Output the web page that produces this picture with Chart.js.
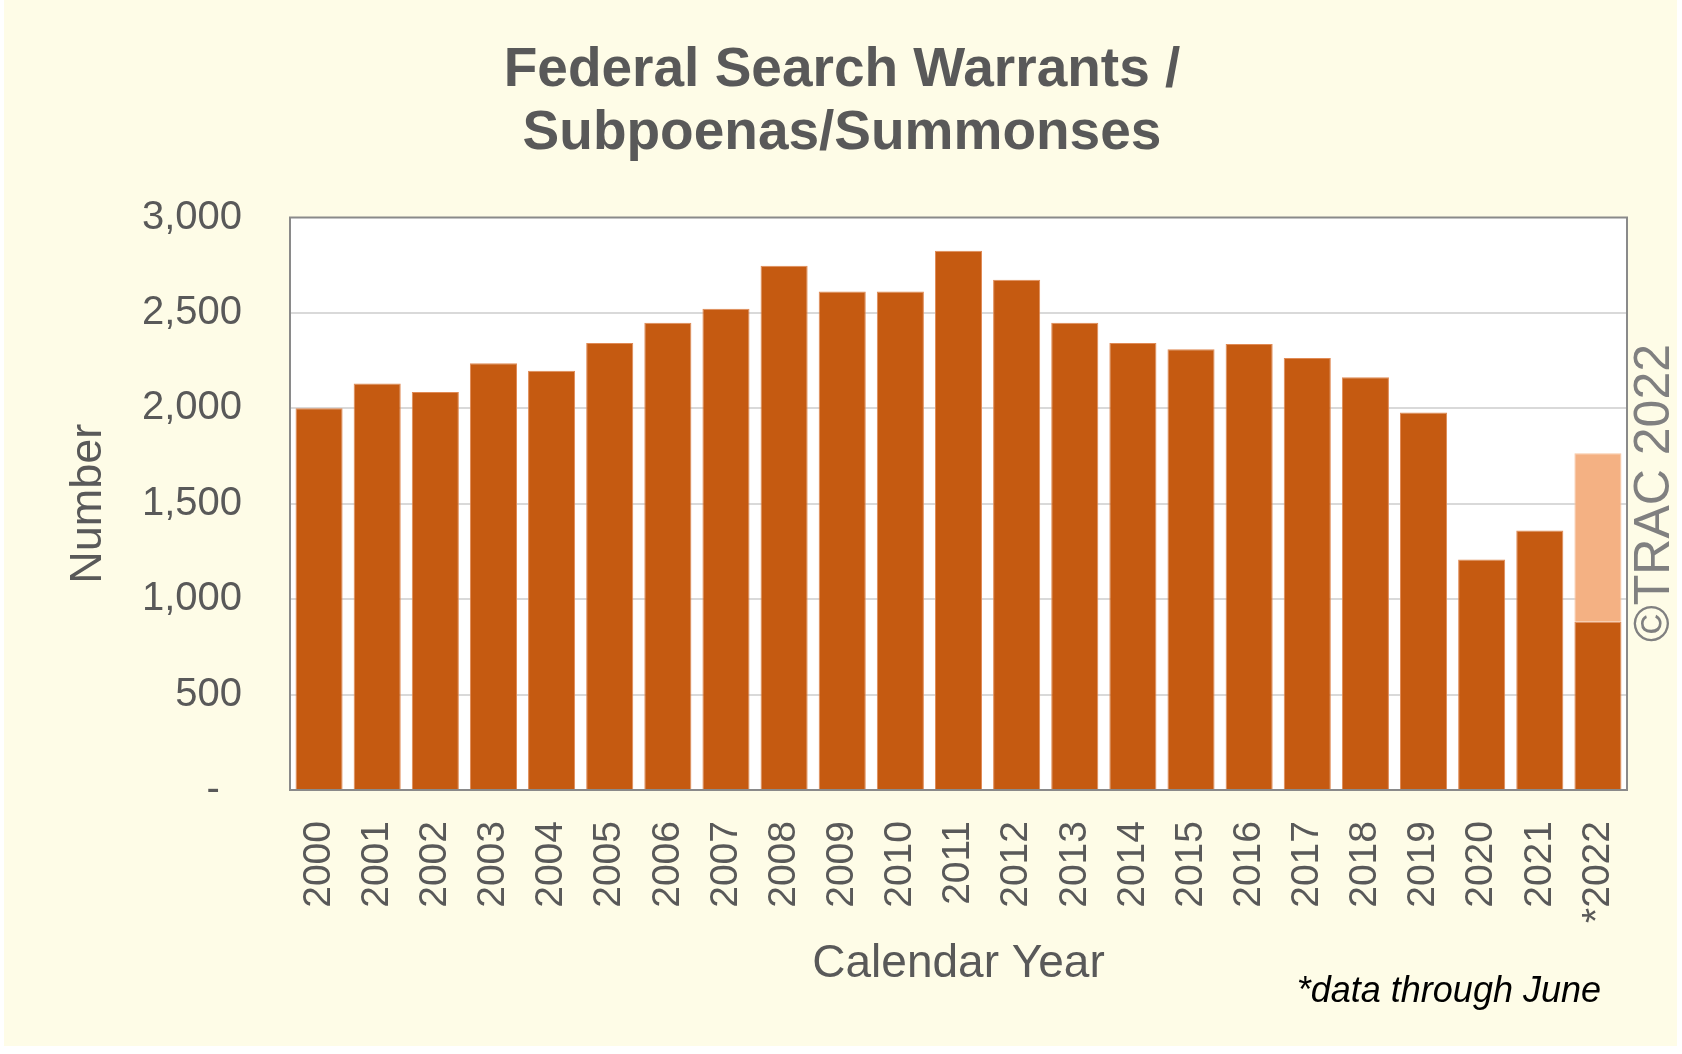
<!DOCTYPE html>
<html>
<head>
<meta charset="utf-8">
<script src="https://cdn.jsdelivr.net/npm/chart.js@4.4.0/dist/chart.umd.min.js"></script>
<style>
  html, body { margin: 0; padding: 0; background: #ffffff; }
  #chart1 { display: block; }
</style>
</head>
<body>
<canvas id="chart1" width="1682" height="1054"></canvas>
<script>
// values
var years = ['2000', '2001', '2002', '2003', '2004', '2005', '2006', '2007', '2008', '2009', '2010', '2011',
    '2012', '2013', '2014', '2015', '2016', '2017', '2018', '2019', '2020', '2021', '*2022']
var counts = [2000, 2130, 2085, 2236, 2197, 2343, 2449, 2522, 2747, 2612, 2612, 2826,
    2674, 2449, 2343, 2309, 2337, 2264, 2163, 1978, 1208, 1360, 882]
// 2022 only covers January-June, the light part stacks the projected rest of the year
var projected = [null, null, null, null, null, null, null, null, null, null, null, null,
    null, null, null, null, null, null, null, null, null, null, 882]
var yTicks = [0, 500, 1000, 1500, 2000, 2500, 3000]

var grayText = '#595959'

const backdrop = {
    id: 'backdrop',
    beforeDraw: function (chart) {
        var ctx = chart.ctx
        var a = chart.chartArea
        ctx.save()
        ctx.fillStyle = '#ffffff'
        ctx.fillRect(0, 0, chart.width, chart.height)
        ctx.fillStyle = '#FEFCE7'
        ctx.fillRect(4, 0, 1673, 1046)
        ctx.fillStyle = '#ffffff'
        ctx.fillRect(a.left, a.top, a.right - a.left, a.bottom - a.top)
        ctx.restore()
    },
    afterDraw: function (chart) {
        var ctx = chart.ctx
        var a = chart.chartArea
        ctx.save()
        // plot frame
        ctx.strokeStyle = '#8a8a8a'
        ctx.lineWidth = 2
        ctx.strokeRect(a.left, a.top, a.right - a.left, a.bottom - a.top)
        // copyright, vertical on the right
        ctx.translate(1655, 493)
        ctx.rotate(-Math.PI / 2)
        ctx.fillStyle = '#808080'
        ctx.font = '50px "Liberation Sans", Arial, sans-serif'
        ctx.textAlign = 'center'
        ctx.textBaseline = 'middle'
        ctx.fillText('\u00A9TRAC 2022', 0, 0)
        ctx.restore()
        // footnote
        ctx.save()
        ctx.fillStyle = '#000000'
        ctx.font = 'italic 36px "Liberation Sans", Arial, sans-serif'
        ctx.textAlign = 'right'
        ctx.textBaseline = 'middle'
        ctx.fillText('*data through June', 1601, 992)
        ctx.restore()
    }
}

var ctx1 = document.getElementById('chart1')
const myChart = new Chart(ctx1, {
    type: 'bar',
    data: {
        labels: years,
        datasets: [{
            data: counts,
            backgroundColor: '#C55A11',
            borderColor: '#E08A55',
            borderWidth: 1,
            barPercentage: 0.81,
            categoryPercentage: 1
        }, {
            data: projected,
            backgroundColor: '#F4B183',
            borderColor: '#F8C6A2',
            borderWidth: 1,
            barPercentage: 0.81,
            categoryPercentage: 1
        }]
    },
    options: {
        responsive: false,
        animation: false,
        devicePixelRatio: 1,
        layout: {
            padding: { left: 40, right: 38, top: 39, bottom: 0 }
        },
        scales: {
            x: {
                stacked: true,
                grid: { display: false, drawTicks: false },
                border: { display: false },
                ticks: {
                    color: grayText,
                    font: { family: '"Liberation Sans", Arial, sans-serif', size: 39 },
                    minRotation: 90,
                    maxRotation: 90,
                    autoSkip: false,
                    padding: 31
                },
                title: {
                    display: true,
                    text: 'Calendar Year',
                    color: grayText,
                    font: { family: '"Liberation Sans", Arial, sans-serif', size: 46 },
                    padding: { top: 0, bottom: 62 }
                },
                afterFit: function (scale) { scale.height = 264 }
            },
            y: {
                stacked: true,
                min: 0,
                max: 3000,
                afterBuildTicks: function (scale) {
                    scale.ticks = yTicks.map(function (v) { return { value: v } })
                },
                grid: {
                    color: function (c) {
                        return (c.tick.value === 0 || c.tick.value === 3000) ? 'rgba(0,0,0,0)' : '#D9D9D9'
                    },
                    lineWidth: 2,
                    drawTicks: false
                },
                border: { display: false },
                ticks: {
                    color: grayText,
                    font: { family: '"Liberation Sans", Arial, sans-serif', size: 40 },
                    padding: 48,
                    callback: function (value) {
                        if (value === 0) return '-  '
                        return value.toLocaleString('en-US')
                    }
                },
                title: {
                    display: true,
                    text: 'Number',
                    color: grayText,
                    font: { family: '"Liberation Sans", Arial, sans-serif', size: 45 },
                    padding: { top: 22, bottom: 0 }
                },
                afterFit: function (scale) { scale.width = 250 }
            },
            // empty strip on the right, keeps the title centred on the whole picture
            y2: {
                position: 'right',
                display: true,
                grid: { display: false },
                border: { display: false },
                ticks: { display: false },
                afterFit: function (scale) { scale.width = 17 }
            }
        },
        plugins: {
            title: {
                display: true,
                text: ['Federal Search Warrants /', 'Subpoenas/Summonses'],
                color: grayText,
                font: { family: '"Liberation Sans", Arial, sans-serif', size: 55, weight: 'bold', lineHeight: 1.15 },
                padding: { top: 0, bottom: 52 }
            },
            legend: { display: false },
            tooltip: { enabled: false }
        }
    },
    plugins: [backdrop]
})
</script>
</body>
</html>
